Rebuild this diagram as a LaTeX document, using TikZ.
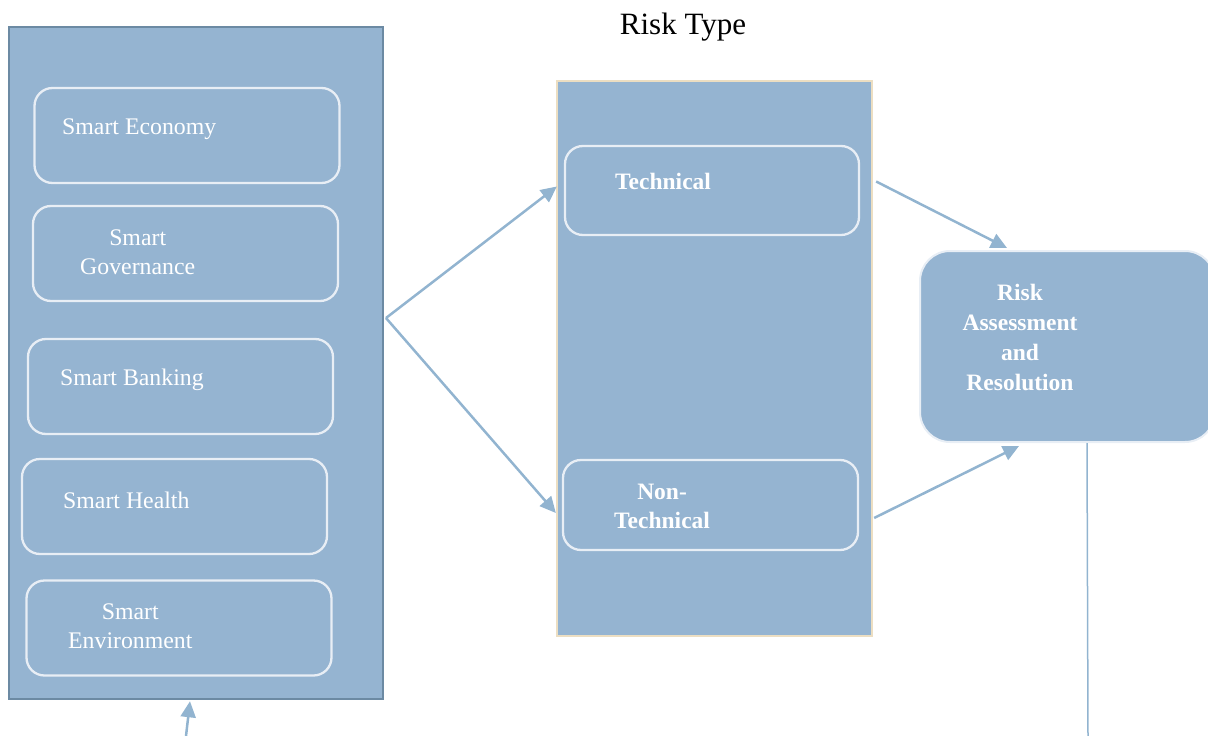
\documentclass[tikz,border=0pt]{standalone}
\usepackage{fontspec}
\setmainfont{Liberation Serif}
\usetikzlibrary{arrows.meta,positioning,calc}
\definecolor{steel}{RGB}{149,180,209}
\definecolor{slate}{RGB}{108,138,163}
\definecolor{sand}{RGB}{236,222,194}
\definecolor{frost}{RGB}{232,238,245}
\definecolor{linkblue}{RGB}{146,180,208}
\tikzset{
  panel/.style={fill=steel,draw=slate,line width=2.5pt,minimum width=374pt,minimum height=672pt},
  item/.style={draw=frost,line width=2.3pt,rounded corners=18pt,minimum width=305pt,minimum height=95pt},
  itemtext/.style={text=white,anchor=west,align=center,inner sep=0pt,font=\fontsize{23.8}{29}\selectfont},
  link/.style={-{Triangle[length=16pt,width=15pt]},line width=2.5pt,linkblue}
}
\begin{document}
\begin{tikzpicture}[x=1pt,y=-1pt]
        \useasboundingbox (0,0) rectangle (1208,736);
        \node[font=\fontsize{31}{36}\selectfont] (title) at (683,27) {Risk Type};
        % left column
        \node[panel] (domains) at (196,363) {};
        \foreach \n/\cx/\cy/\tx/\ty/\t in {econ/187/135.5/62/129/Smart Economy,gov/185.5/253.5/80/252/Smart\\Governance,bank/180.5/386.5/60/380/Smart Banking,health/174.5/506.5/63/500/Smart Health,env/179/628/68/626/Smart\\Environment}{
          \node[item] (\n) at (\cx,\cy) {};
          \node[itemtext] (\n-text) at (\tx,\ty) {\t};
        }
        % risk type column
        \node[panel,draw=sand,line width=2pt,minimum width=315pt,minimum height=555pt] (types) at (714.5,358.5) {};
        \node[item,minimum width=294pt,minimum height=89pt] (tech) at (712,190.5) {};
        \node[itemtext,font=\fontsize{23.5}{29}\selectfont\bfseries] (tech-text) at (615,181) {Technical};
        \node[item,minimum width=295pt,minimum height=90pt] (nontech) at (710.5,505) {};
        \node[itemtext,font=\fontsize{23.5}{29}\selectfont\bfseries] (nontech-text) at (614,506) {Non-\\Technical};
        % assessment
        \node[fill=steel,draw=frost,line width=2pt,rounded corners=30pt,minimum width=295pt,minimum height=191pt] (risk) at (1067.5,346.5) {};
        \node[text=white,align=center,inner sep=0pt,font=\fontsize{23.5}{30}\selectfont\bfseries] (risk-text) at (1020,337) {Risk\\Assessment\\and\\Resolution};
        % connectors
        \coordinate (fork) at (386,318);
        \coordinate (feed) at (186,736);
        \coordinate (outlet) at (1088,736);
        \draw[link] (fork) -- ($(tech.west)+(-7,-4)$);
        \draw[link] (fork) -- ($(nontech.west)+(-6,8)$);
        \draw[link] ($(tech.east)+(16,-9)$) -- ($(risk.north west)+(88,-2)$);
        \draw[link] ($(nontech.east)+(15,13)$) -- ($(risk.south west)+(100,3)$);
        \draw[link] (feed) -- ($(domains.south)+(-6,1)$);
        \draw[line width=1.5pt,linkblue] ($(risk.south west)+(168,0)$) -- (outlet);
      \end{tikzpicture}
\end{document}
